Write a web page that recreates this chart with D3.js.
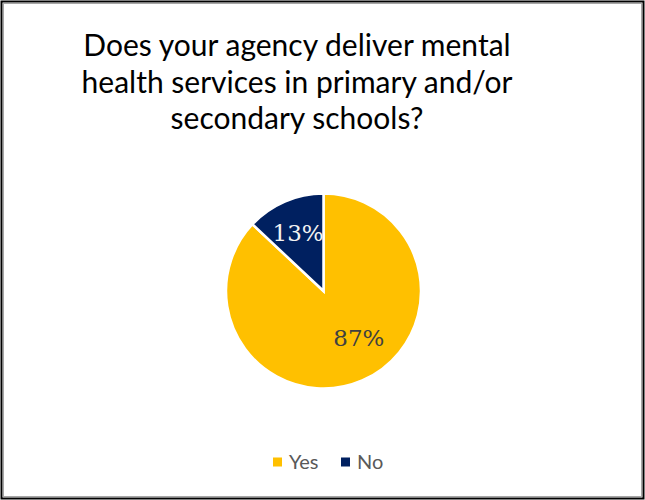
<!DOCTYPE html>
<html>
<head>
<meta charset="utf-8">
<script src="https://cdn.jsdelivr.net/npm/d3@7"></script>
<style>
  body { margin: 0; background: #fff; }
</style>
</head>
<body>
<svg></svg>
<script>
var categories = ["Yes", "No"];
var values = [87, 13];
var colors = ["#FFC000", "#002060"];
var labelColors = ["#404040", "#F2F2F2"];
var titleLines = [
  "Does your agency deliver mental",
  "health services in primary and/or",
  "secondary schools?"
];

var width = 645;
var height = 500;

var svg = d3.select("svg").attr("width", width).attr("height", height);

/* frame */
svg.append("rect")
  .attr("x", 1.5).attr("y", 1.5)
  .attr("width", width - 3).attr("height", height - 3)
  .attr("fill", "#fff")
  .attr("stroke", "#000")
  .attr("stroke-width", 2);
svg.append("rect")
  .attr("x", 3.5).attr("y", 3.5)
  .attr("width", width - 7).attr("height", height - 7)
  .attr("fill", "none")
  .attr("stroke", "#a6a6a6")
  .attr("stroke-width", 1);

/* title */
svg.append("g")
  .selectAll("text")
  .data(titleLines)
  .enter()
  .append("text")
  .attr("x", 297)
  .attr("y", (d, i) => 56 + i * 36.5)
  .attr("text-anchor", "middle")
  .attr("font-family", "Lato, 'Open Sans', sans-serif")
  .attr("font-size", 30)
  .attr("fill", "#000")
  .text((d) => d);

/* pie */
var cx = 323.5, cy = 291, radius = 97.5;

var pie = d3.pie().sort(null).value((d) => d)
  .startAngle(0).endAngle(2 * Math.PI);
var arcs = pie(values);
var arc = d3.arc().innerRadius(0).outerRadius(radius);

var g = svg.append("g").attr("transform", "translate(" + cx + "," + cy + ")");

g.selectAll("path")
  .data(arcs)
  .enter()
  .append("path")
  .attr("d", arc)
  .attr("fill", (d, i) => colors[i])
  .attr("stroke", "#fff")
  .attr("stroke-width", 2.5)
  .attr("stroke-linejoin", "miter");

/* labels placed "best fit" style: centroid plus a small nudge */
var labelArc = d3.arc().innerRadius(0).outerRadius(128);
var labelOffsets = [[10, -12], [0, 0]];

g.selectAll("text.lbl")
  .data(arcs)
  .enter()
  .append("text")
  .attr("class", "lbl")
  .attr("transform", (d, i) => {
    var c = labelArc.centroid(d);
    return "translate(" + (c[0] + labelOffsets[i][0]) + "," + (c[1] + labelOffsets[i][1]) + ")";
  })
  .attr("text-anchor", "middle")
  .attr("dy", "0.36em")
  .attr("font-family", "'DejaVu Serif', 'Liberation Serif', serif")
  .attr("font-size", 23)
  .attr("fill", (d, i) => labelColors[i])
  .text((d) => d.data + "%");

/* legend */
var legendX = [273, 341];
var legend = svg.append("g")
  .selectAll("g")
  .data(categories)
  .enter()
  .append("g")
  .attr("transform", (d, i) => "translate(" + legendX[i] + ",462)");

legend.append("rect")
  .attr("x", 0).attr("y", -4.5)
  .attr("width", 9).attr("height", 9)
  .attr("fill", (d, i) => colors[i]);

legend.append("text")
  .attr("x", 16)
  .attr("dy", "0.35em")
  .attr("font-family", "Lato, 'Open Sans', sans-serif")
  .attr("font-size", 20)
  .attr("fill", "#595959")
  .text((d) => d);
</script>
</body>
</html>
